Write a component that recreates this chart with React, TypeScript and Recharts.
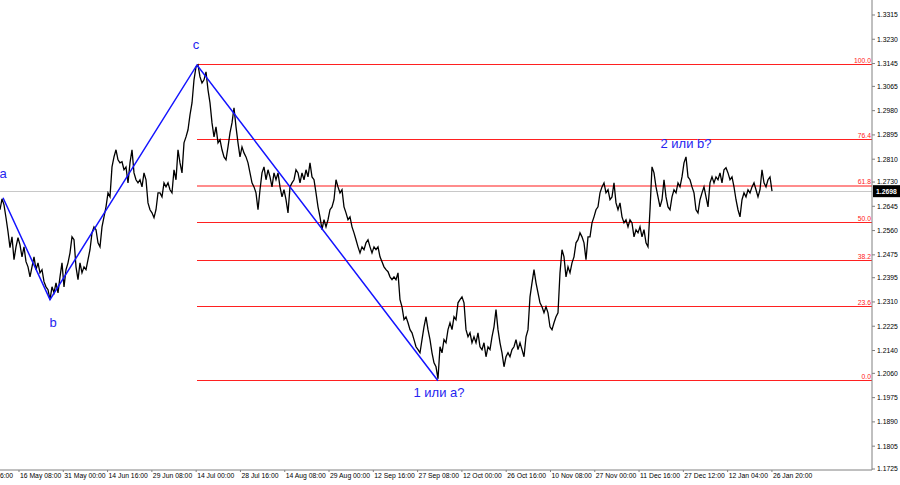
import React from 'react';
import { ComposedChart, Line, XAxis, YAxis, ReferenceLine, Scatter } from 'recharts';

// closing prices, one per step
const PRICES: number[] = [
  1.2633, 1.2671, 1.2650, 1.2605, 1.2556, 1.2500, 1.2538, 1.2458, 1.2503, 1.2535,
  1.2510, 1.2468, 1.2503, 1.2451, 1.2433, 1.2398, 1.2433, 1.2468, 1.2423, 1.2447,
  1.2412, 1.2423, 1.2381, 1.2363, 1.2353, 1.2318, 1.2363, 1.2342, 1.2377, 1.2342,
  1.2398, 1.2447, 1.2363, 1.2423, 1.2447, 1.2482, 1.2538, 1.2528, 1.2433, 1.2388,
  1.2447, 1.2412, 1.2433, 1.2423, 1.2458, 1.2493, 1.2552, 1.2573, 1.2563, 1.2517,
  1.2503, 1.2573, 1.2608, 1.2643, 1.2692, 1.2678, 1.2783, 1.2818, 1.2843, 1.2808,
  1.2797, 1.2801, 1.2773, 1.2783, 1.2727, 1.2797, 1.2843, 1.2762, 1.2738, 1.2727,
  1.2738, 1.2713, 1.2762, 1.2738, 1.2657, 1.2633, 1.2622, 1.2605, 1.2633, 1.2692,
  1.2692, 1.2678, 1.2727, 1.2713, 1.2727, 1.2703, 1.2692, 1.2773, 1.2738, 1.2843,
  1.2797, 1.2762, 1.2867, 1.2888, 1.2913,
  1.2965, 1.3007, 1.3088, 1.3133, 1.3140, 1.3098, 1.3077, 1.3088, 1.3116, 1.3053,
  1.3007, 1.2937, 1.2888, 1.2923, 1.2867, 1.2878, 1.2843, 1.2818, 1.2808, 1.2853,
  1.2902, 1.2937, 1.2990, 1.2923, 1.2867, 1.2818, 1.2853, 1.2832, 1.2818, 1.2797,
  1.2762, 1.2727, 1.2713, 1.2692, 1.2633, 1.2703, 1.2762, 1.2783, 1.2738, 1.2773,
  1.2748, 1.2713, 1.2762, 1.2738, 1.2762, 1.2713, 1.2678, 1.2703, 1.2668, 1.2622,
  1.2713, 1.2727, 1.2738, 1.2773, 1.2762, 1.2727, 1.2762, 1.2738, 1.2773, 1.2748,
  1.2797, 1.2748, 1.2738, 1.2692, 1.2643, 1.2608, 1.2563, 1.2598, 1.2573, 1.2598,
  1.2633, 1.2643, 1.2668, 1.2738, 1.2713, 1.2692, 1.2703, 1.2643, 1.2622, 1.2598,
  1.2608, 1.2573, 1.2552, 1.2528, 1.2503, 1.2482, 1.2503, 1.2493, 1.2517, 1.2528,
  1.2503, 1.2482, 1.2503, 1.2493, 1.2503, 1.2468, 1.2451, 1.2433, 1.2423, 1.2416,
  1.2398, 1.2388, 1.2398, 1.2388, 1.2412, 1.2318, 1.2293, 1.2248, 1.2258, 1.2237,
  1.2213, 1.2202, 1.2178, 1.2153, 1.2143, 1.2132, 1.2178, 1.2223, 1.2258, 1.2213,
  1.2178, 1.2132, 1.2097, 1.2083, 1.2041, 1.2153, 1.2132, 1.2178, 1.2167, 1.2213,
  1.2237, 1.2213, 1.2258, 1.2248, 1.2307, 1.2318, 1.2328, 1.2307, 1.2213, 1.2188,
  1.2202, 1.2167, 1.2188, 1.2167, 1.2202, 1.2153, 1.2143, 1.2167, 1.2118, 1.2153,
  1.2143, 1.2188, 1.2223, 1.2283, 1.2213, 1.2167, 1.2132, 1.2083, 1.2118, 1.2132,
  1.2118, 1.2143, 1.2153, 1.2178, 1.2143, 1.2167, 1.2143, 1.2118, 1.2188, 1.2213,
  1.2328, 1.2377, 1.2423, 1.2377, 1.2342, 1.2307, 1.2293, 1.2272, 1.2293, 1.2272,
  1.2223, 1.2213, 1.2237, 1.2258, 1.2272, 1.2412, 1.2493, 1.2468, 1.2398, 1.2433,
  1.2412, 1.2447, 1.2468, 1.2517, 1.2528, 1.2552, 1.2538, 1.2517, 1.2458, 1.2538,
  1.2538, 1.2587, 1.2608, 1.2633, 1.2643, 1.2692, 1.2713, 1.2727, 1.2692, 1.2703,
  1.2668, 1.2678, 1.2727, 1.2657, 1.2633, 1.2657, 1.2608, 1.2587, 1.2598, 1.2573,
  1.2598, 1.2587, 1.2538, 1.2563, 1.2552, 1.2573, 1.2538, 1.2563, 1.2517, 1.2503,
  1.2633, 1.2783, 1.2762, 1.2713, 1.2678, 1.2643, 1.2668, 1.2738, 1.2678, 1.2643,
  1.2633, 1.2678, 1.2703, 1.2692, 1.2727, 1.2713, 1.2748, 1.2797, 1.2818, 1.2748,
  1.2738, 1.2713, 1.2692, 1.2633, 1.2622, 1.2668, 1.2692, 1.2713, 1.2678, 1.2643,
  1.2727, 1.2748, 1.2727, 1.2748, 1.2738, 1.2762, 1.2727, 1.2773, 1.2780, 1.2762,
  1.2738, 1.2748, 1.2713, 1.2668, 1.2633, 1.2608, 1.2668, 1.2692, 1.2678, 1.2703,
  1.2692, 1.2713, 1.2727, 1.2703, 1.2678, 1.2703, 1.2773, 1.2727, 1.2713, 1.2738,
  1.2748, 1.2698,
];

const LAST_PRICE = 1.2698;

// wave vertices: a, b, c, 1 или a?
const WAVE_INDEX: number[] = [1.5, 25, 98.5, 219];
const WAVE_PRICE: number[] = [1.2675, 1.2318, 1.3140, 1.2034];
const WAVE_LABELS: string[] = ['a', 'b', 'c', '1 или a?'];

// extra annotation anchored at the recent high
const NOTE_INDEX = 343;
const NOTE_PRICE = 1.2818;
const NOTE_LABEL = '2 или b?';

// Fibonacci levels (percent), drawn between the wave c high and the wave low
const FIB_LEVELS: number[] = [0, 23.6, 38.2, 50, 61.8, 76.4, 100];
const FIB_LABELS: string[] = ['0.0', '23.6', '38.2', '50.0', '61.8', '76.4', '100.0'];

const Y_TICKS: number[] = [
  1.1725, 1.1805, 1.189, 1.1975, 1.206, 1.214, 1.2225, 1.231, 1.2395, 1.2475,
  1.256, 1.2645, 1.273, 1.281, 1.2895, 1.298, 1.3065, 1.3145, 1.323, 1.3315,
];
const Y_DOMAIN: [number, number] = [1.17215, 1.33675];

const X_LABELS: string[] = [
  '1 May 16:00', '16 May 08:00', '31 May 00:00', '14 Jun 16:00', '29 Jun 08:00',
  '14 Jul 00:00', '28 Jul 16:00', '14 Aug 08:00', '29 Aug 00:00', '12 Sep 16:00',
  '27 Sep 08:00', '12 Oct 00:00', '26 Oct 16:00', '10 Nov 08:00', '27 Nov 00:00',
  '11 Dec 16:00', '27 Dec 12:00', '12 Jan 04:00', '26 Jan 20:00',
];
const X_FIRST_TICK = -12.645; // index of '1 May 16:00'
const X_TICK_STEP = 22.145; // steps between labels
const X_DOMAIN: [number, number] = [0, 436];

// ---------- derived tables ----------
const priceData = PRICES.map((p, i) => ({ i, p }));
const waveData = WAVE_INDEX.map((i, k) => ({ i, p: WAVE_PRICE[k], label: WAVE_LABELS[k] }));
const labelData = [...waveData, { i: NOTE_INDEX, p: NOTE_PRICE, label: NOTE_LABEL }];
const xTicks = X_LABELS.map((_, k) => X_FIRST_TICK + k * X_TICK_STEP);
const fibHigh = WAVE_PRICE[2];
const fibLow = WAVE_PRICE[3];
const fibStart = WAVE_INDEX[2];
const fibValues = FIB_LEVELS.map((lv) => fibLow + (fibHigh - fibLow) * (lv / 100));
const fibLineData = fibValues.map((v) => [
  { i: fibStart, p: v },
  { i: X_DOMAIN[1], p: v },
]);
const fibLabelData = fibValues.map((v, k) => ({ i: X_DOMAIN[1], p: v, label: FIB_LABELS[k] }));

const FONT = '"Liberation Sans", Arial, sans-serif';
const AXIS_FS = 6.8;

const LABEL_OFFSETS: Record<string, { dx: number; dy: number }> = {
  a: { dx: 0, dy: -20 },
  b: { dx: 3, dy: 27 },
  c: { dx: -1, dy: -16 },
  '1 или a?': { dx: 1, dy: 16 },
  '2 или b?': { dx: 0, dy: -9 },
};

const XTick = (props: any) => {
  const { x, y, payload } = props;
  const idx = xTicks.findIndex((t) => Math.abs(t - payload.value) < 1e-6);
  const text = idx >= 0 ? X_LABELS[idx] : '';
  return (
    <text x={x + 1} y={y + 4} fontSize={AXIS_FS} fontFamily={FONT} fill="#000" textAnchor="start">
      {text}
    </text>
  );
};

const YTick = (props: any) => {
  const { x, y, payload } = props;
  return (
    <text x={x} y={y + 2.4} fontSize={AXIS_FS} fontFamily={FONT} fill="#000" textAnchor="start">
      {Number(payload.value).toFixed(4)}
    </text>
  );
};

const FibLabel = (props: any) => {
  const { cx, cy, payload } = props;
  return (
    <text x={cx - 1} y={cy - 1.5} fontSize={AXIS_FS} fontFamily={FONT} fill="#ff2020" textAnchor="end">
      {payload.label}
    </text>
  );
};

const PriceTag = (props: any) => {
  const { viewBox } = props;
  if (!viewBox) return null;
  const x = viewBox.x + viewBox.width;
  const y = viewBox.y;
  return (
    <g>
      <rect x={x + 1} y={y - 6} width={27} height={12} fill="#000" />
      <text x={x + 4} y={y + 2.5} fontSize={AXIS_FS} fontFamily={FONT} fill="#fff" fontWeight="bold">
        {LAST_PRICE.toFixed(4)}
      </text>
    </g>
  );
};

const WaveLabel = (props: any) => {
  const { cx, cy, payload } = props;
  const off = LABEL_OFFSETS[payload.label] || { dx: 0, dy: 0 };
  return (
    <text x={cx + off.dx} y={cy + off.dy} textAnchor="middle" fontSize={13} fontFamily={FONT} fill="#2525f0">
      {payload.label}
    </text>
  );
};

export default function App() {
  return (
    <div style={{ position: 'fixed', left: 0, top: 0, width: 900, height: 485, background: '#fff' }}>
      <ComposedChart width={900} height={485} data={priceData} margin={{ top: 0, right: 0, bottom: 0, left: 0 }}>
        <XAxis
          dataKey="i"
          type="number"
          domain={X_DOMAIN}
          allowDataOverflow
          ticks={xTicks}
          interval={0}
          tick={<XTick />}
          tickSize={2}
          tickMargin={2}
          height={15}
          axisLine={{ stroke: '#808080' }}
          tickLine={{ stroke: '#808080' }}
        />
        <YAxis
          orientation="right"
          type="number"
          domain={Y_DOMAIN}
          allowDataOverflow
          ticks={Y_TICKS}
          interval={0}
          tick={<YTick />}
          tickSize={3}
          tickMargin={2}
          width={28}
          axisLine={{ stroke: '#808080' }}
          tickLine={{ stroke: '#808080' }}
        />
        <ReferenceLine
          y={LAST_PRICE}
          stroke="#c8c8c8"
          strokeWidth={1}
          shapeRendering="crispEdges"
          label={<PriceTag />}
        />
        {fibLineData.map((d, k) => {
          const is618 = FIB_LEVELS[k] === 61.8;
          return (
            <Line
              key={'fib' + k}
              data={d}
              dataKey="p"
              stroke={is618 ? '#ff8c8c' : '#ff2020'}
              strokeWidth={is618 ? 2 : 1}
              shapeRendering="crispEdges"
              dot={false}
              activeDot={false}
              isAnimationActive={false}
              type="linear"
            />
          );
        })}
        <Scatter data={fibLabelData} dataKey="p" shape={<FibLabel />} isAnimationActive={false} />
        <Line
          dataKey="p"
          stroke="#000"
          strokeWidth={1.3}
          dot={false}
          activeDot={false}
          isAnimationActive={false}
          type="linear"
        />
        <Line
          data={waveData}
          dataKey="p"
          stroke="#1414ff"
          strokeWidth={1.5}
          dot={false}
          activeDot={false}
          isAnimationActive={false}
          type="linear"
        />
        <Scatter data={labelData} dataKey="p" shape={<WaveLabel />} isAnimationActive={false} />
      </ComposedChart>
    </div>
  );
}
